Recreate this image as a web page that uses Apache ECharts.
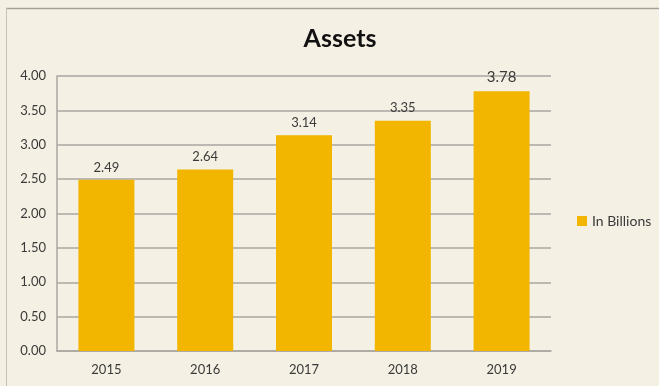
<!DOCTYPE html>
<html>
<head>
<meta charset="utf-8">
<script src="https://cdn.jsdelivr.net/npm/echarts@6/dist/echarts.min.js"></script>
<style>
  html, body { margin: 0; padding: 0; background: #f4f0e3; }
  #chart { width: 659px; height: 386px; }
</style>
</head>
<body>
<div id="chart"></div>
<script>
// Yearly assets, in billions
const years = ['2015', '2016', '2017', '2018', '2019'];
const assets = [2.49, 2.64, 3.14, 3.35, 3.78];
const seriesName = 'In Billions';
const chartTitle = 'Assets';

const font = 'Lato, "Open Sans", sans-serif';
const textColor = '#3a3a3a';
const barColor = '#f2b500';
const gridColor = '#a9a7a0';

const chart = echarts.init(document.getElementById('chart'), null, { renderer: 'canvas' });

const barData = assets.map((v, i) => {
  const item = { value: v };
  // the latest year is called out with a slightly larger figure
  if (i === assets.length - 1) item.label = { fontSize: 15 };
  return item;
});

chart.setOption({
  backgroundColor: '#f4f0e3',
  animation: false,
  title: {
    text: chartTitle,
    left: 335,
    top: 21,
    textAlign: 'center',
    textStyle: { fontFamily: font, fontWeight: 'bold', fontSize: 25, color: '#111111' }
  },
  legend: {
    data: [seriesName],
    left: 572,
    top: 209,
    itemWidth: 10,
    itemHeight: 10,
    itemGap: 6,
    icon: 'rect',
    textStyle: { fontFamily: font, fontSize: 14, color: textColor }
  },
  grid: { left: 57, right: 108, top: 76, bottom: 35 },
  xAxis: {
    type: 'category',
    data: years,
    axisLine: { show: true, lineStyle: { color: gridColor, width: 1.5 } },
    axisTick: { show: false },
    axisLabel: { fontFamily: font, fontSize: 13, color: textColor, margin: 12 }
  },
  yAxis: {
    type: 'value',
    min: 0,
    max: 4,
    interval: 0.5,
    axisLine: { show: true, lineStyle: { color: gridColor, width: 1.5 } },
    axisTick: { show: false },
    splitLine: { show: true, lineStyle: { color: gridColor, width: 1.5 } },
    axisLabel: {
      fontFamily: font, fontSize: 13, color: textColor, margin: 11,
      formatter: v => v.toFixed(2)
    }
  },
  series: [{
    name: seriesName,
    type: 'bar',
    data: barData,
    barWidth: 56,
    itemStyle: { color: barColor },
    label: {
      show: true,
      position: 'top',
      distance: 6,
      fontFamily: font,
      fontSize: 13,
      color: textColor,
      formatter: p => p.value.toFixed(2)
    }
  }],
  graphic: [
    // chart frame: top and left edges
    { type: 'line', shape: { x1: 6, y1: 8.5, x2: 659, y2: 8.5 }, style: { stroke: '#a3a29a', lineWidth: 1.5 } },
    { type: 'line', shape: { x1: 6.5, y1: 8, x2: 6.5, y2: 386 }, style: { stroke: '#c3c1b8', lineWidth: 1 } }
  ]
});
</script>
</body>
</html>
